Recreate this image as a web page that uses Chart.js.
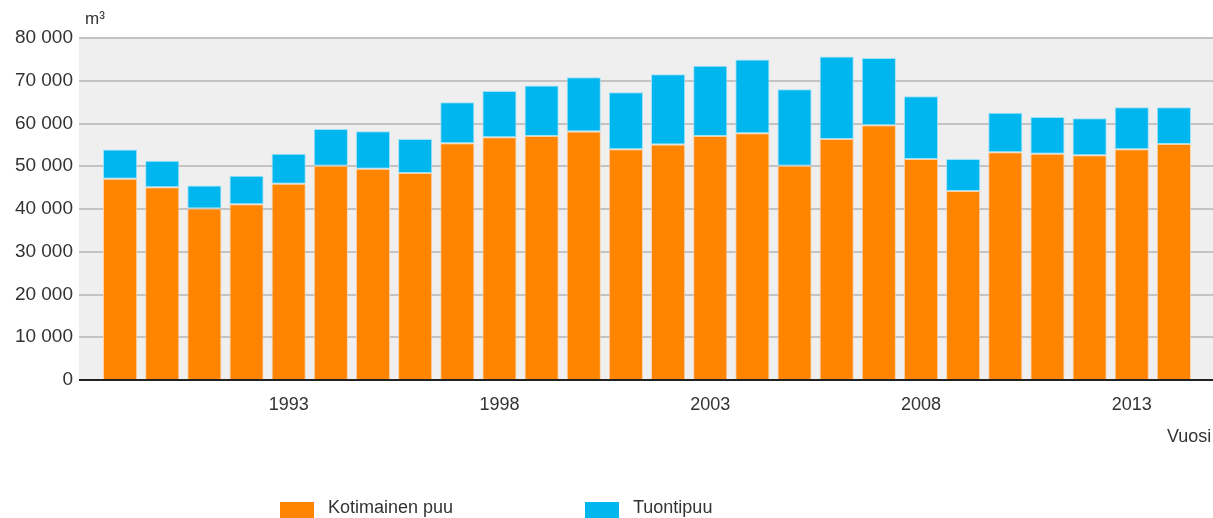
<!DOCTYPE html>
<html>
<head>
<meta charset="utf-8">
<script src="https://cdn.jsdelivr.net/npm/chart.js@4.4.1/dist/chart.umd.min.js"></script>
<style>
    html, body { margin: 0; padding: 0; background: #ffffff; }
    #wrap { position: relative; width: 1213px; height: 518px; overflow: hidden; font-family: "Liberation Sans", Arial, sans-serif; color: #333; }
    #chart { position: absolute; left: 0; top: 0; }
    .unit { position: absolute; left: 85px; top: 9px; font-size: 17px; }
    .xtitle { position: absolute; left: 1167px; top: 426px; font-size: 18px; }
    .lg-box { position: absolute; width: 34px; height: 17px; top: 502px; }
    .lg-text { position: absolute; top: 497px; font-size: 18px; }
</style>
</head>
<body>
<div id="wrap">
    <canvas id="chart" width="1213" height="518"></canvas>
    <div class="unit">m³</div>
    <div class="xtitle">Vuosi</div>
    <div class="lg-box" style="left:280px;background:#ff8500"></div>
    <div class="lg-text" style="left:328px">Kotimainen puu</div>
    <div class="lg-box" style="left:585px;background:#00b6ee"></div>
    <div class="lg-text" style="left:633px">Tuontipuu</div>
</div>
<script>
// Data (m³)
const years = ['1989', '1990', '1991', '1992', '1993', '1994', '1995', '1996', '1997', '1998',
    '1999', '2000', '2001', '2002', '2003', '2004', '2005', '2006', '2007', '2008',
    '2009', '2010', '2011', '2012', '2013', '2014'];
const domestic = [47100, 45100, 40100, 41100, 45900, 50100, 49400, 48400, 55400, 56800,
    57100, 58100, 54000, 55100, 57100, 57700, 50100, 56400, 59600, 51700,
    44200, 53300, 52900, 52600, 54000, 55200];
const imported = [6800, 6200, 5400, 6700, 7000, 8600, 8800, 8000, 9600, 10800,
    11800, 12700, 13300, 16400, 16400, 17300, 17900, 19300, 15700, 14700,
    7500, 9200, 8600, 8600, 9800, 8600];
const labelledYears = ['1993', '1998', '2003', '2008', '2013'];

// plot background and gridlines run wider than the bar area
const plotBackground = {
    id: 'plotBackground',
    beforeDatasetsDraw(chart) {
        const { ctx, chartArea, scales } = chart;
        const left = 79, right = 1213;
        ctx.save();
        ctx.fillStyle = '#efefef';
        ctx.fillRect(left, chartArea.top, right - left, chartArea.bottom - chartArea.top);
        ctx.strokeStyle = '#c3c3c3';
        ctx.lineWidth = 2;
        scales.y.ticks.forEach(t => {
            if (t.value === 0) return;
            const y = Math.round(scales.y.getPixelForValue(t.value));
            ctx.beginPath();
            ctx.moveTo(left, y);
            ctx.lineTo(right, y);
            ctx.stroke();
        });
        ctx.restore();
    },
    afterDatasetsDraw(chart) {
        const { ctx, scales } = chart;
        const y = Math.round(scales.y.getPixelForValue(0));
        ctx.save();
        ctx.strokeStyle = '#222';
        ctx.lineWidth = 2;
        ctx.beginPath();
        ctx.moveTo(79, y);
        ctx.lineTo(1213, y);
        ctx.stroke();
        ctx.restore();
    }
};

const ctx = document.getElementById('chart').getContext('2d');
new Chart(ctx, {
    type: 'bar',
    data: {
        labels: years,
        datasets: [{
            label: 'Kotimainen puu',
            data: domestic,
            backgroundColor: '#ff8500',
            borderColor: 'rgba(255, 200, 150, 0.8)',
            borderWidth: 1,
            borderSkipped: false
        }, {
            label: 'Tuontipuu',
            data: imported,
            backgroundColor: '#00b6ee',
            borderColor: 'rgba(150, 225, 250, 0.9)',
            borderWidth: 1,
            borderSkipped: false
        }]
    },
    options: {
        responsive: false,
        animation: false,
        layout: {
            padding: { top: 38, right: 18, bottom: 0, left: 0 }
        },
        plugins: {
            legend: { display: false },
            tooltip: { enabled: false }
        },
        datasets: {
            bar: {
                categoryPercentage: 1,
                barPercentage: 0.81
            }
        },
        scales: {
            x: {
                stacked: true,
                grid: { display: false, drawTicks: false },
                border: { display: false },
                afterFit(scale) { scale.height = 138; },
                ticks: {
                    autoSkip: false,
                    maxRotation: 0,
                    padding: 14,
                    color: '#333',
                    font: { family: '"Liberation Sans", Arial, sans-serif', size: 18 },
                    callback: function(value) {
                        const label = this.getLabelForValue(value);
                        return labelledYears.includes(label) ? label : '';
                    }
                }
            },
            y: {
                stacked: true,
                min: 0,
                max: 80000,
                grid: { display: false, drawTicks: false },
                border: { display: false },
                afterFit(scale) { scale.width = 99; },
                ticks: {
                    stepSize: 10000,
                    padding: 26,
                    color: '#333',
                    font: { family: '"Liberation Sans", Arial, sans-serif', size: 19 },
                    callback: function(value) {
                        return value.toLocaleString('en-US').replace(/,/g, ' ');
                    }
                }
            }
        }
    },
    plugins: [plotBackground]
});
</script>
</body>
</html>
